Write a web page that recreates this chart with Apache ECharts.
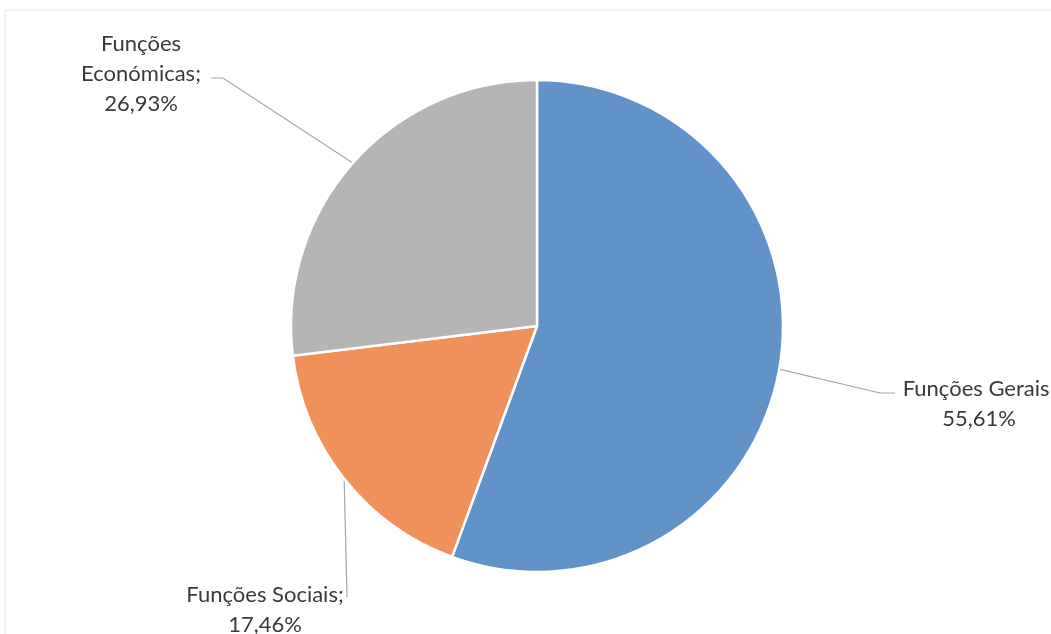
<!DOCTYPE html>
<html>
<head>
<meta charset="utf-8">
<script src="https://cdn.jsdelivr.net/npm/echarts@6/dist/echarts.min.js"></script>
<style>
html,body{margin:0;padding:0;background:#fff;}
#chart{width:1051px;height:634px;}
</style>
</head>
<body>
<div id="chart"></div>
<script>
var categories = ['Funções Gerais', 'Funções Sociais', 'Funções Económicas'];
var labelNames = ['Funções Gerais;', 'Funções Sociais;', 'Funções\nEconómicas;'];
var values = [55.61, 17.46, 26.93];
var valueLabels = ['55,61%', '17,46%', '26,93%'];
var colors = ['#6192c8', '#f0915b', '#b5b5b5'];

// label placement (layout only)
var labelPos = [
  {x: 979, y: 404},
  {x: 265, y: 610},
  {x: 141, y: 74}
];
// guide line bend/end points (layout only)
var guideEnds = [
  [[880, 393], [895, 393]],
  [[347, 597]],
  [[223, 78], [211, 78]]
];

var chart = echarts.init(document.getElementById('chart'));
chart.setOption({
  animation: false,
  backgroundColor: '#ffffff',
  graphic: [{
    type: 'rect',
    shape: {x: 5, y: 10, width: 1060, height: 640},
    style: {fill: 'none', stroke: '#e4e4e4', lineWidth: 1}
  }],
  series: [{
    type: 'pie',
    center: [537, 326],
    radius: 246,
    startAngle: 90,
    clockwise: true,
    data: categories.map(function (c, i) {
      return {name: c, value: values[i], itemStyle: {color: colors[i]}};
    }),
    itemStyle: {borderColor: '#ffffff', borderWidth: 2.5},
    label: {
      show: true,
      position: 'outside',
      formatter: function (p) {
        return labelNames[p.dataIndex] + '\n' + valueLabels[p.dataIndex];
      },
      fontFamily: 'Lato',
      fontSize: 22,
      lineHeight: 30,
      color: '#3a3a3a',
      align: 'center'
    },
    labelLine: {
      show: true,
      length: 40,
      length2: 20,
      lineStyle: {color: '#a6a6a6', width: 1.2}
    },
    labelLayout: function (params) {
      var i = params.dataIndex;
      var p = labelPos[i];
      var start = params.labelLinePoints ? params.labelLinePoints[0] : null;
      var out = {x: p.x, y: p.y, align: 'center', verticalAlign: 'middle'};
      if (start) {
        out.labelLinePoints = [start].concat(guideEnds[i]);
      }
      return out;
    }
  }]
});
</script>
</body>
</html>
